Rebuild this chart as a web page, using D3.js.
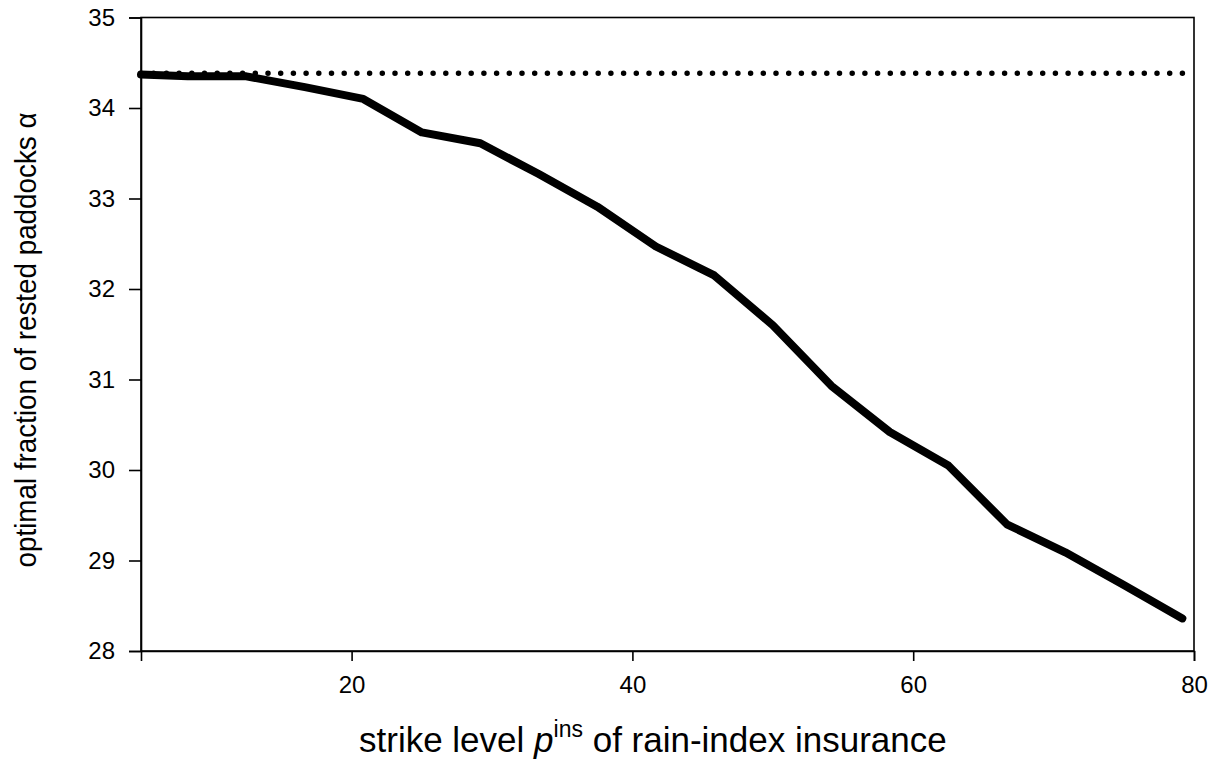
<!DOCTYPE html>
<html><head><meta charset="utf-8">
<script src="https://cdn.jsdelivr.net/npm/d3@7"></script>
<style>body{margin:0;background:#fff}</style>
</head><body>
<svg id="c" width="1220" height="763"></svg>
<script>
const strikeLevels = [5, 8.33, 12.5, 16.67, 20.83, 25, 29.17, 33.33, 37.5, 41.67, 45.83, 50, 54.17, 58.33, 62.5, 66.67, 70.83, 75, 79.17];
const alphaInsured = [34.37, 34.35, 34.35, 34.23, 34.10, 33.73, 33.61, 33.27, 32.91, 32.47, 32.15, 31.60, 30.93, 30.42, 30.05, 29.40, 29.09, 28.73, 28.36];
const alphaNoInsurance = 34.385;
const xTicks = [20, 40, 60, 80];
const yTicks = [28, 29, 30, 31, 32, 33, 34, 35];

const svg = d3.select("#c");
const L = 141, R = 1194, T = 17.5, B = 651;
const x = d3.scaleLinear().domain([5, 80]).range([L, R]);
const y = d3.scaleLinear().domain([28, 35]).range([B, T]);
const font = "'Liberation Sans', Arial, sans-serif";

svg.append("rect").attr("x", L).attr("y", T).attr("width", R - L).attr("height", B - T)
  .attr("fill", "none").attr("stroke", "#000").attr("stroke-width", 1.6);

const xAxis = svg.append("g").attr("transform", `translate(0,${B})`)
  .call(d3.axisBottom(x).tickValues(xTicks).tickSize(10).tickPadding(15).tickFormat(d3.format("d")));
const yAxis = svg.append("g").attr("transform", `translate(${L},0)`)
  .call(d3.axisLeft(y).tickValues(yTicks).tickSize(12).tickPadding(14).tickFormat(d3.format("d")));
[xAxis, yAxis].forEach(g => {
  g.select(".domain").attr("stroke", "#000").attr("stroke-width", 1.6);
  g.selectAll(".tick line").attr("stroke", "#000").attr("stroke-width", 1.6);
  g.selectAll(".tick text").attr("fill", "#000").style("font-family", font).style("font-size", "24px");
});

svg.append("line").attr("x1", x(5)).attr("x2", x(80))
  .attr("y1", y(alphaNoInsurance)).attr("y2", y(alphaNoInsurance))
  .attr("stroke", "#000").attr("stroke-width", 5.5).attr("stroke-linecap", "round")
  .attr("stroke-dasharray", "0 12.7");

const line = d3.line().x((d, i) => x(strikeLevels[i])).y(d => y(d));
svg.append("path").datum(alphaInsured).attr("d", line)
  .attr("fill", "none").attr("stroke", "#000").attr("stroke-width", 8)
  .attr("stroke-linejoin", "round").attr("stroke-linecap", "round");

const xt = svg.append("text").attr("x", 359).attr("y", 752)
  .attr("text-anchor", "start").style("font-family", font).style("font-size", "35px").attr("fill", "#000");
xt.append("tspan").text("strike level ");
xt.append("tspan").text("p").style("font-style", "italic");
xt.append("tspan").text("ins").attr("dy", -15).style("font-size", "23px");
xt.append("tspan").text(" of rain-index insurance").attr("dy", 15);

svg.append("text").attr("transform", `translate(36,340) rotate(-90)`)
  .attr("text-anchor", "middle").style("font-family", font).style("font-size", "29px")
  .attr("textLength", 455).attr("lengthAdjust", "spacingAndGlyphs").attr("fill", "#000")
  .text("optimal fraction of rested paddocks α");
</script>
</body></html>
